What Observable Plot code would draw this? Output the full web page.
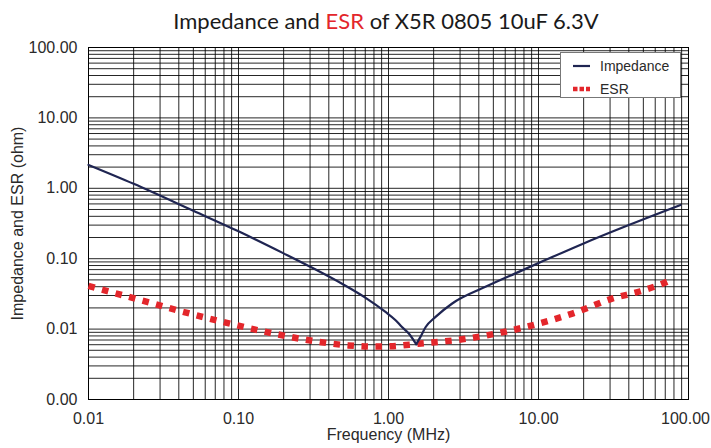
<!DOCTYPE html>
<html><head><meta charset="utf-8">
<script src="https://cdn.jsdelivr.net/npm/d3@7"></script>
<script src="https://cdn.jsdelivr.net/npm/@observablehq/plot@0.6"></script>
<style>
body{margin:0;background:#fff;}
#wrap{position:relative;width:711px;height:448px;overflow:hidden;}
#title{position:absolute;left:60px;top:6px;width:652px;text-align:center;font-family:Lato,'Open Sans',sans-serif;font-size:22px;color:#1a1a1a;line-height:30px;white-space:nowrap;}
#title .esr{color:#e3262b;}
#legend{position:absolute;left:560px;top:52px;}
#chart svg text{font-family:"Liberation Sans",Arial,Helvetica,sans-serif;}
</style></head>
<body>
<div id="wrap">
<div id="chart"></div>
<div id="title">Impedance and <span class="esr">ESR</span> of X5R 0805 10uF 6.3V</div>
<div id="legend"></div>
</div>
<script>
// Tick values
const freqTicks = [0.01, 0.1, 1, 10, 100];
const ohmTicks = [0.001, 0.01, 0.1, 1, 10, 100];
const gridMultipliers = [1, 2, 3, 4, 5, 6, 7, 8, 9];

// Series names
const seriesNames = ["Impedance", "ESR"];

// Impedance (ohm) vs frequency (MHz): capacitive branch, then inductive branch (share the resonance point)
const impFreqLow = [0.01, 0.02, 0.05, 0.1, 0.2, 0.3, 0.5, 0.7, 0.955, 1.11, 1.23, 1.37, 1.53];
const impOhmLow  = [2.15, 1.16, 0.48, 0.245, 0.119, 0.077, 0.043, 0.028, 0.0175, 0.0135, 0.0107, 0.0086, 0.0061];
const impFreqHigh = [1.53, 1.63, 1.77, 2.06, 2.66, 4.43, 7.39, 11.1, 20.0, 40.0, 88.5];
const impOhmHigh  = [0.0061, 0.0077, 0.0107, 0.0149, 0.0231, 0.0398, 0.065, 0.0955, 0.165, 0.301, 0.58];

// ESR (ohm) vs frequency (MHz)
const esrFreq = [0.01, 0.0211, 0.0406, 0.0767, 0.146, 0.277, 0.538, 0.832, 1.03, 1.58, 3.10, 5.87, 9.08, 16.8, 31.6, 47.9, 74, 78];
const esrOhm  = [0.041, 0.0266, 0.0181, 0.0128, 0.0093, 0.0071, 0.00587, 0.00564, 0.0057, 0.0062, 0.00716, 0.0091, 0.0113, 0.0166, 0.0275, 0.0345, 0.0484, 0.051];

const impColor = "#1f2552";
const esrColor = "#e3262b";

const xGrid = freqTicks.slice(0, -1).flatMap(d => gridMultipliers.map(k => +(d * k).toPrecision(6))).concat([freqTicks[freqTicks.length - 1]]);
const yGrid = ohmTicks.slice(0, -1).flatMap(d => gridMultipliers.map(k => +(d * k).toPrecision(6))).concat([ohmTicks[ohmTicks.length - 1]]);

const imp = impFreqLow.map((f, i) => ({f, z: impOhmLow[i], branch: "low"}))
  .concat(impFreqHigh.map((f, i) => ({f, z: impOhmHigh[i], branch: "high"})));
const esr = esrFreq.map((f, i) => ({f, z: esrOhm[i]}));
const fmt = d3.format(".2f");

const chart = Plot.plot({
  width: 711, height: 448,
  marginTop: 47, marginBottom: 49, marginLeft: 88, marginRight: 23,
  style: {fontFamily: "'Liberation Sans', Arial, sans-serif", fontSize: "16px", color: "#2a2a2a", background: "transparent"},
  x: {type: "log", domain: [0.01, 100]},
  y: {type: "log", domain: [0.001, 100]},
  marks: [
    Plot.ruleX(xGrid, {stroke: "#000", strokeWidth: 1, strokeOpacity: 0.85}),
    Plot.ruleY(yGrid, {stroke: "#000", strokeWidth: 1, strokeOpacity: 0.85}),
    Plot.frame({stroke: "#000"}),
    Plot.axisX({ticks: freqTicks.slice(0, -1), tickFormat: fmt, tickSize: 0, tickPadding: 13, fontSize: 16,
      label: "Frequency (MHz)", labelAnchor: "center", labelArrow: "none", labelOffset: 40}),
    Plot.axisX({ticks: freqTicks.slice(-1), tickFormat: fmt, tickSize: 0, tickPadding: 13, fontSize: 16, dx: -3, label: null}),
    Plot.axisY({ticks: ohmTicks, tickFormat: fmt, tickSize: 0, tickPadding: 11, fontSize: 16,
      label: "Impedance and ESR (ohm)", labelAnchor: "center", labelArrow: "none", labelOffset: 77}),
    Plot.line(esr, {x: "f", y: "z", stroke: esrColor, strokeWidth: 6.5, strokeDasharray: "6.5,7.5", strokeLinecap: "butt", curve: "monotone-x"}),
    Plot.line(imp, {x: "f", y: "z", z: "branch", stroke: impColor, strokeWidth: 2.2, curve: "monotone-x"})
  ]
});
document.getElementById("chart").append(chart);

// Legend
const lg = d3.select("#legend").append("svg").attr("width", 122).attr("height", 47);
lg.append("rect").attr("x", 0.5).attr("y", 0.5).attr("width", 120).attr("height", 45)
  .attr("fill", "#fff").attr("stroke", "#777");
const rows = [{name: seriesNames[0], color: impColor, w: 2.2, dash: null},
              {name: seriesNames[1], color: esrColor, w: 4.5, dash: "4.5,2"}];
rows.forEach((r, i) => {
  const y = 14 + i * 23;
  lg.append("line").attr("x1", 13).attr("x2", 30).attr("y1", y).attr("y2", y)
    .attr("stroke", r.color).attr("stroke-width", r.w).attr("stroke-dasharray", r.dash);
  lg.append("text").attr("x", 40).attr("y", y + 5).text(r.name)
    .attr("font-family", "'Liberation Sans', Arial, sans-serif").attr("font-size", 14).attr("fill", "#2a2a2a");
});
</script>
</body></html>
